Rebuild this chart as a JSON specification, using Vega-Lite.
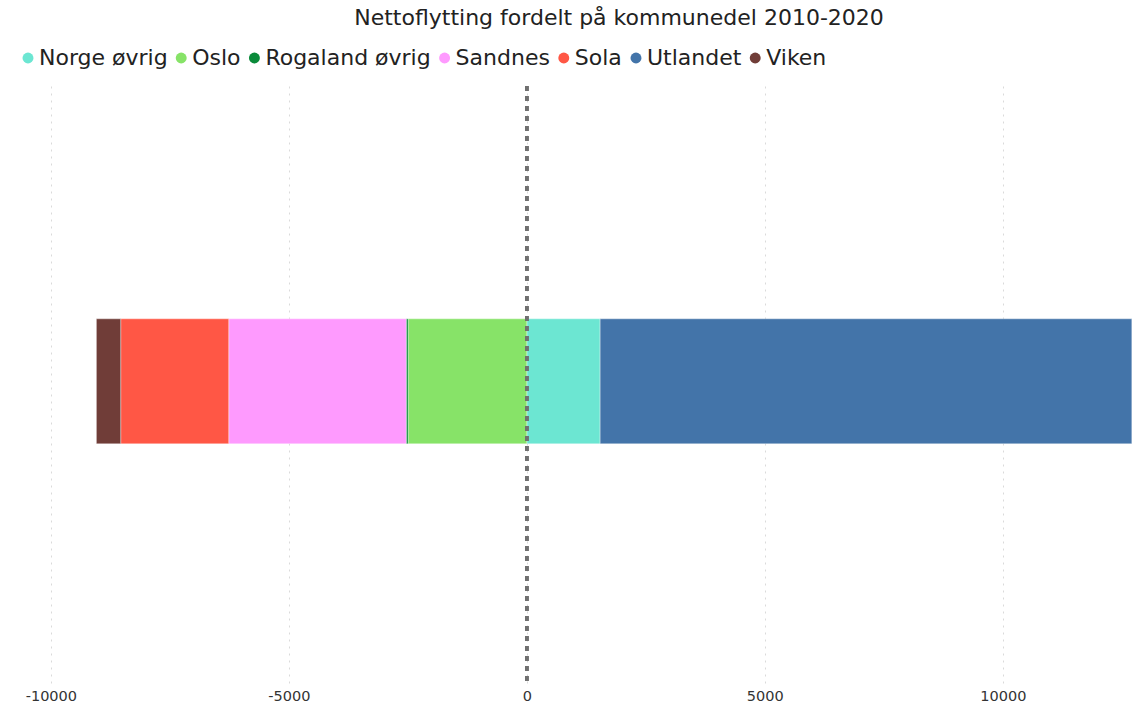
{
  "$schema": "https://vega.github.io/schema/vega-lite/v6.json",
  "width": 1120,
  "height": 597,
  "autosize": {"type": "none"},
  "padding": {"left": 18, "top": 86, "right": 9, "bottom": 34},
  "background": "white",
  "title": {
    "text": "Nettoflytting fordelt på kommunedel 2010-2020",
    "font": "DejaVu Sans",
    "fontSize": 22,
    "fontWeight": "normal",
    "color": "#222222",
    "anchor": "middle",
    "frame": "group",
    "dx": 41,
    "offset": 17
  },
  "data": {
    "values": [
      {"gruppe": "Total", "kommunedel": "Norge øvrig", "nettoflytting": 1540},
      {"gruppe": "Total", "kommunedel": "Oslo", "nettoflytting": -2494},
      {"gruppe": "Total", "kommunedel": "Rogaland øvrig", "nettoflytting": -40},
      {"gruppe": "Total", "kommunedel": "Sandnes", "nettoflytting": -3729},
      {"gruppe": "Total", "kommunedel": "Sola", "nettoflytting": -2269},
      {"gruppe": "Total", "kommunedel": "Utlandet", "nettoflytting": 11170},
      {"gruppe": "Total", "kommunedel": "Viken", "nettoflytting": -511}
    ]
  },
  "layer": [
    {
      "mark": {"type": "bar", "stroke": "#ffffff", "strokeWidth": 0.5, "strokeOpacity": 0.7, "height": {"band": 0.628}},
      "encoding": {
        "y": {"field": "gruppe", "type": "nominal", "axis": null, "scale": {"paddingInner": 0, "paddingOuter": 1, "align": 0.492}},
        "x": {
          "field": "nettoflytting",
          "type": "quantitative",
          "stack": "zero",
          "scale": {"domain": [-10690, 12840], "nice": false, "zero": false},
          "axis": {
            "values": [-10000, -5000, 0, 5000, 10000],
            "labelExpr": "toString(datum.value)",
            "title": null,
            "domain": false,
            "ticks": false,
            "grid": true,
            "gridColor": "#dadada",
            "gridDash": [2, 5],
            "labelFont": "DejaVu Sans",
            "labelFontSize": 14.5,
            "labelColor": "#333333",
            "labelPadding": 6
          }
        },
        "color": {
          "field": "kommunedel",
          "type": "nominal",
          "scale": {
            "domain": ["Norge øvrig", "Oslo", "Rogaland øvrig", "Sandnes", "Sola", "Utlandet", "Viken"],
            "range": ["#6ce6d2", "#87e368", "#0a8a3a", "#fe9afe", "#ff5745", "#4374a9", "#703d38"]
          },
          "legend": {
            "orient": "none",
            "legendX": -1,
            "legendY": -39,
            "direction": "horizontal",
            "title": null,
            "symbolType": "circle",
            "symbolSize": 120,
            "symbolStrokeWidth": 0,
            "symbolOpacity": 1,
            "labelFont": "DejaVu Sans",
            "labelFontSize": 22,
            "labelColor": "#222222",
            "labelLimit": 0,
            "columnPadding": 2.2,
            "labelOffset": 0,
            "padding": 0
          }
        },
        "order": {"field": "kommunedel", "sort": "ascending"}
      }
    },
    {
      "mark": {"type": "rule", "color": "#707070", "strokeWidth": 3, "strokeDash": [5, 5]},
      "encoding": {"x": {"datum": 0}}
    }
  ],
  "config": {"view": {"stroke": null}}
}
